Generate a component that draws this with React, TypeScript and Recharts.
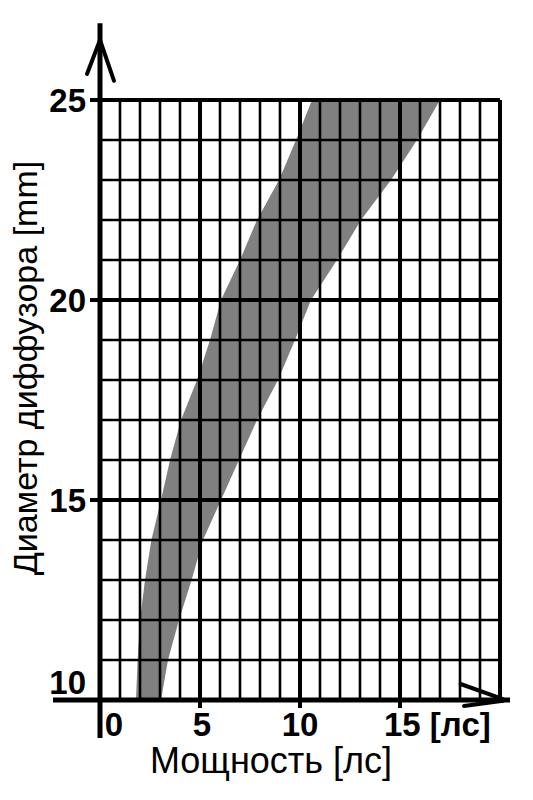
import React from 'react';
import { ComposedChart, Area, XAxis, YAxis, ReferenceLine } from 'recharts';

// Diameter of diffuser [mm] (vertical axis)
const diameters = [10, 11, 12, 13, 14, 15, 16, 17, 18, 19, 20, 21, 22, 23, 24, 25];
// Power bounds [лс] for each diameter
const powerMin = [1.8, 1.88, 2.0, 2.25, 2.57, 3.05, 3.5, 4.05, 4.85, 5.5, 6.05, 7.0, 7.85, 8.95, 9.8, 10.6];
const powerMax = [3.05, 3.4, 3.95, 4.58, 5.15, 6.05, 6.95, 7.85, 8.9, 9.75, 10.55, 11.85, 13.05, 14.55, 15.85, 17.0];

const xTicks = [0, 5, 10, 15];
const xTickLabels = ['0', '5', '10', '15 [лс]'];
const yTicks = [10, 15, 20, 25];
const yTickLabels = ['10', '15', '20', '25'];

const xMinorGrid = [1, 2, 3, 4, 6, 7, 8, 9, 11, 12, 13, 14, 16, 17, 18, 19];
const xMajorGrid = [5, 10, 15, 20];
const yMinorGrid = [11, 12, 13, 14, 16, 17, 18, 19, 21, 22, 23, 24];
const yMajorGrid = [15, 20, 25];

const xTitle = 'Мощность [лс]';
const yTitle = 'Диаметр диффузора [mm]';

const data = diameters.map((d, i) => ({ d, band: [powerMin[i], powerMax[i]] }));

const FONT = '"Liberation Sans", Arial, sans-serif';

const XTick = (props: any) => {
  const { x, y, payload } = props;
  const idx = xTicks.indexOf(payload.value);
  const label = xTickLabels[idx] ?? String(payload.value);
  let dx = 0;
  let anchor: 'middle' | 'start' = 'middle';
  if (payload.value === 0) dx = 14;
  else if (payload.value === 5) dx = 2;
  else if (payload.value === 15) { dx = -16; anchor = 'start'; }
  return (
    <text x={x + dx} y={y + 36} textAnchor={anchor} fontFamily={FONT} fontWeight="bold" fontSize={33} fill="#000">
      {label}
    </text>
  );
};

const YTick = (props: any) => {
  const { x, y, payload } = props;
  const idx = yTicks.indexOf(payload.value);
  const label = yTickLabels[idx] ?? String(payload.value);
  const dy = payload.value === 10 ? -6 : 12;
  return (
    <text x={x - 14} y={y + dy} textAnchor="end" fontFamily={FONT} fontWeight="bold" fontSize={33} fill="#000">
      {label}
    </text>
  );
};

const XTitle = (props: any) => {
  const vb = props.viewBox || { x: 100, y: 700, width: 400 };
  return (
    <text x={vb.x + vb.width / 2 - 29} y={vb.y + 73} textAnchor="middle" fontFamily={FONT} fontSize={36} fill="#000">
      {xTitle}
    </text>
  );
};

const YTitle = () => {
  const cx = 37;
  const cy = 368;
  return (
    <text x={cx} y={cy} transform={`rotate(-90, ${cx}, ${cy})`} textAnchor="middle" fontFamily={FONT} fontSize={34} fill="#000">
      {yTitle}
    </text>
  );
};

export default function App() {
  return (
    <div style={{ position: 'absolute', left: 0, top: 0, width: 533, height: 800, background: '#fff' }}>
      <ComposedChart
        width={533}
        height={800}
        data={data}
        layout="vertical"
        margin={{ top: 100, right: 33, bottom: 0, left: 0 }}
      >
        <XAxis
          type="number"
          domain={[0, 20]}
          ticks={xTicks}
          height={100}
          axisLine={false}
          tickLine={false}
          tickSize={0}
          tickMargin={0}
          tick={<XTick />}
          interval={0}
          allowDataOverflow
          label={{ value: xTitle, content: <XTitle /> }}
        />
        <YAxis
          type="number"
          dataKey="d"
          domain={[10, 25]}
          reversed
          ticks={yTicks}
          width={100}
          axisLine={false}
          tickLine={false}
          tickSize={0}
          tickMargin={0}
          tick={<YTick />}
          interval={0}
          allowDataOverflow
          label={{ value: yTitle, content: <YTitle /> }}
        />
        <Area
          dataKey="band"
          type="linear"
          fill="#808080"
          fillOpacity={1}
          stroke="none"
          isAnimationActive={false}
          dot={false}
          activeDot={false}
        />
        {xMinorGrid.map((v) => (
          <ReferenceLine key={`xm${v}`} x={v} stroke="#000" strokeWidth={2.6} />
        ))}
        {yMinorGrid.map((v) => (
          <ReferenceLine key={`ym${v}`} y={v} stroke="#000" strokeWidth={2.6} />
        ))}
        {xMajorGrid.map((v) => (
          <ReferenceLine key={`xM${v}`} x={v} stroke="#000" strokeWidth={4} />
        ))}
        {yMajorGrid.map((v) => (
          <ReferenceLine key={`yM${v}`} y={v} stroke="#000" strokeWidth={4} />
        ))}
        {[15, 20, 25].map((v) => (
          <ReferenceLine key={`yt${v}`} segment={[{ x: -0.5, y: v }, { x: 0, y: v }]} ifOverflow="visible" stroke="#000" strokeWidth={4} />
        ))}
        {[5, 10, 15].map((v) => (
          <ReferenceLine key={`xt${v}`} segment={[{ x: v, y: 10 }, { x: v, y: 9.8 }]} ifOverflow="visible" stroke="#000" strokeWidth={4} />
        ))}
        <ReferenceLine segment={[{ x: 0, y: 9.05 }, { x: 0, y: 26.92 }]} ifOverflow="visible" stroke="#000" strokeWidth={5} />
        <ReferenceLine segment={[{ x: -2.35, y: 10 }, { x: 20.5, y: 10 }]} ifOverflow="visible" stroke="#000" strokeWidth={5} />
        <ReferenceLine segment={[{ x: -0.65, y: 25.65 }, { x: 0, y: 26.5 }]} ifOverflow="visible" stroke="#000" strokeWidth={4} strokeLinecap="round" />
        <ReferenceLine segment={[{ x: 0, y: 26.5 }, { x: 0.7, y: 25.48 }]} ifOverflow="visible" stroke="#000" strokeWidth={4} strokeLinecap="round" />
        <ReferenceLine segment={[{ x: 18.03, y: 10.4 }, { x: 20.15, y: 10.02 }]} ifOverflow="visible" stroke="#000" strokeWidth={4} strokeLinecap="round" />
        <ReferenceLine segment={[{ x: 18.2, y: 9.85 }, { x: 20.15, y: 9.98 }]} ifOverflow="visible" stroke="#000" strokeWidth={4} strokeLinecap="round" />
      </ComposedChart>
    </div>
  );
}
